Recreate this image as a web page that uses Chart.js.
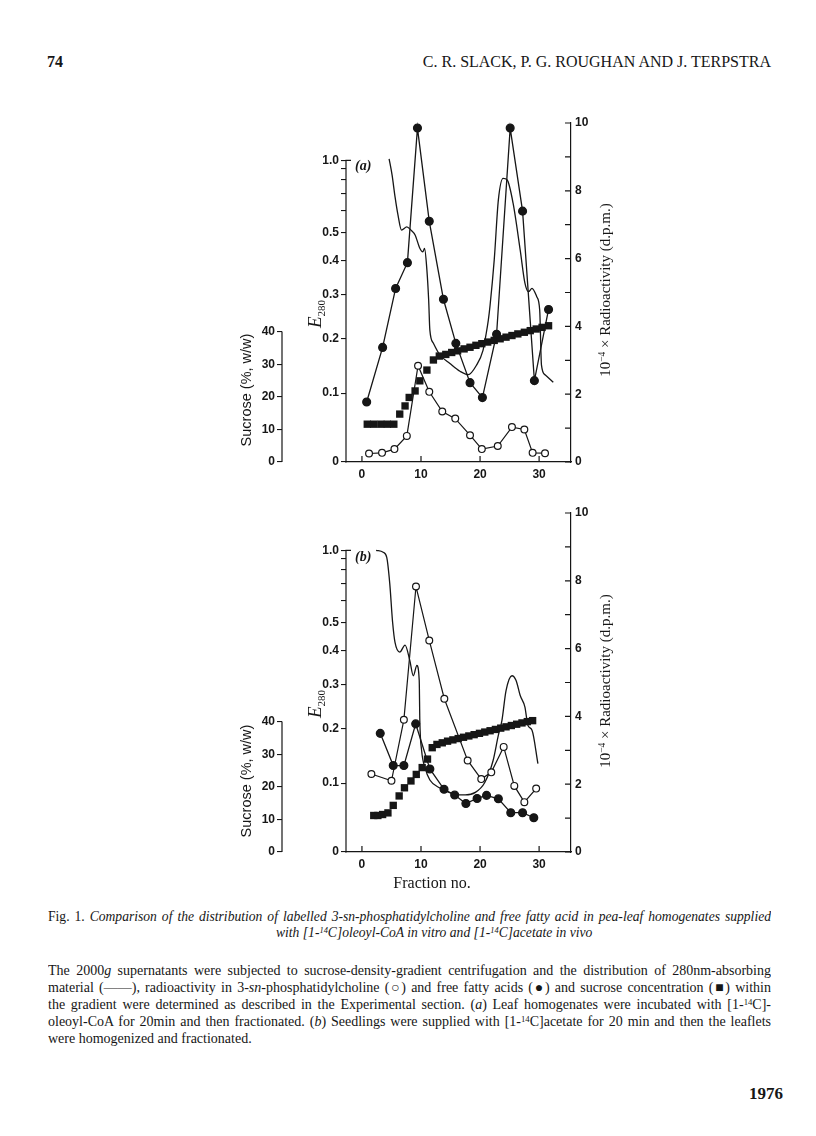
<!DOCTYPE html>
<html>
<head>
<meta charset="utf-8">
<script src="https://cdn.jsdelivr.net/npm/chart.js@4"></script>
<style>
body { margin:0; background:#fff; }
#page { position:relative; width:816px; height:1136px; background:#fff; color:#161616; font-family:"Liberation Serif", serif; overflow:hidden; }
.t { position:absolute; white-space:nowrap; line-height:1; }
.rot { transform:translate(-50%,-50%) rotate(-90deg); }
.sup { font-size:0.62em; vertical-align:0.5em; line-height:0; }
.ln { position:absolute; left:48px; width:723px; font-size:14px; line-height:17px; height:17px; overflow:hidden; text-align:justify; text-align-last:justify; }
canvas { position:absolute; }
</style>
</head>
<body>
<div id="page">
  <div class="t" style="left:47px;top:54px;font-size:16px;font-weight:bold;">74</div>
  <div class="t" style="right:45px;top:54px;font-size:16px;">C. R. SLACK, P. G. ROUGHAN AND J. TERPSTRA</div>

  <canvas id="chartA" width="390" height="390" style="left:230px;top:100px;"></canvas>
  <canvas id="chartB" width="390" height="390" style="left:230px;top:490px;"></canvas>

  <div class="t" style="left:355px;top:159px;font-size:14px;font-style:italic;font-weight:bold;">(a)</div>
  <div class="t" style="left:355px;top:550px;font-size:14px;font-style:italic;font-weight:bold;">(b)</div>

  <div class="t rot" style="left:316px;top:314px;font-size:19px;"><i>E</i><sub style="font-size:11px;">280</sub></div>
  <div class="t rot" style="left:316px;top:704px;font-size:19px;"><i>E</i><sub style="font-size:11px;">280</sub></div>
  <div class="t rot" style="left:246px;top:390px;font-size:14.5px;font-family:'Liberation Sans',sans-serif;">Sucrose (%, w/w)</div>
  <div class="t rot" style="left:246px;top:781px;font-size:14.5px;font-family:'Liberation Sans',sans-serif;">Sucrose (%, w/w)</div>
  <div class="t rot" style="left:605px;top:290px;font-size:15px;">10<span class="sup">−4</span> × Radioactivity (d.p.m.)</div>
  <div class="t rot" style="left:605px;top:681px;font-size:15px;">10<span class="sup">−4</span> × Radioactivity (d.p.m.)</div>

  <div class="t" style="left:432px;top:875px;font-size:16px;transform:translateX(-50%);">Fraction no.</div>

  <div class="ln" style="top:908px;font-size:13.6px;">Fig. 1. <i>Comparison of the distribution of labelled 3-sn-phosphatidylcholine and free fatty acid in pea-leaf homogenates supplied</i></div>
  <div class="t" style="left:276px;top:926px;font-size:13.6px;font-style:italic;">with [1-<span class="sup">14</span>C]oleoyl-CoA in vitro and [1-<span class="sup">14</span>C]acetate in vivo</div>

  <div class="ln" style="top:962px;">The 2000<i>g</i> supernatants were subjected to sucrose-density-gradient centrifugation and the distribution of 280nm-absorbing</div>
  <div class="ln" style="top:979px;">material (——), radioactivity in 3-<i>sn</i>-phosphatidylcholine (○) and free fatty acids (●) and sucrose concentration (■) within</div>
  <div class="ln" style="top:996px;">the gradient were determined as described in the Experimental section. (<i>a</i>) Leaf homogenates were incubated with [1-<span class="sup">14</span>C]-</div>
  <div class="ln" style="top:1013px;">oleoyl-CoA for 20min and then fractionated. (<i>b</i>) Seedlings were supplied with [1-<span class="sup">14</span>C]acetate for 20 min and then the leaflets</div>
  <div class="ln" style="top:1030px;text-align-last:left;">were homogenized and fractionated.</div>

  <div class="t" style="left:749px;top:1085px;font-size:17px;font-weight:bold;">1976</div>
</div>

<script>
var ink = '#161616';

// (a) homogenates incubated with [1-14C]oleoyl-CoA
var e280FracA = [4.6, 5.1, 5.6, 6.1, 6.7, 7.6, 8.3, 9.0, 9.8, 10.3, 10.6, 11.0, 11.3, 11.5, 12.1, 13.2, 14.9, 16.6, 18.0, 19.4, 20.5, 21.0, 21.4, 21.7, 22.4, 23.1, 23.9, 24.6, 25.6, 26.8, 27.6, 28.2, 28.8, 29.6, 30.1, 30.4, 31.0, 32.4];
var e280A = [1.02, 0.843, 0.681, 0.58, 0.511, 0.525, 0.511, 0.491, 0.441, 0.428, 0.44, 0.369, 0.286, 0.217, 0.19, 0.167, 0.151, 0.137, 0.131, 0.148, 0.176, 0.207, 0.239, 0.274, 0.401, 0.661, 0.813, 0.799, 0.641, 0.434, 0.331, 0.308, 0.317, 0.295, 0.262, 0.148, 0.131, 0.118];
var ffaFracA = [0.8, 3.5, 5.7, 7.7, 9.4, 11.4, 13.8, 15.9, 18.3, 20.4, 22.8, 25.1, 27.2, 29.2, 31.6];
var ffaA = [1.77, 3.38, 5.12, 5.88, 9.85, 7.1, 4.8, 3.5, 2.34, 1.9, 3.77, 9.85, 7.4, 2.4, 4.5];
var pcFracA = [1.2, 3.4, 5.5, 7.6, 9.5, 11.4, 13.6, 15.8, 18.3, 20.3, 23.0, 25.4, 27.5, 28.9, 31.0];
var pcA = [0.25, 0.27, 0.38, 0.77, 2.84, 2.07, 1.49, 1.28, 0.79, 0.38, 0.47, 1.03, 0.96, 0.27, 0.26];
var sucFracA = [0.9, 2.0, 3.2, 4.3, 5.4, 6.4, 7.3, 8.0, 9.0, 9.8, 11.0, 12.1, 13.1, 14.2, 15.2, 16.2, 17.3, 18.3, 19.3, 20.3, 21.3, 22.4, 23.4, 24.4, 25.4, 26.4, 27.5, 28.5, 29.5, 30.5, 31.6];
var sucA = [11.6, 11.6, 11.6, 11.6, 11.6, 14.7, 17.2, 19.8, 21.8, 24.9, 28.2, 31.3, 32.5, 33.0, 33.6, 34.1, 34.7, 35.2, 35.8, 36.3, 36.8, 37.3, 37.8, 38.3, 38.8, 39.3, 39.8, 40.3, 40.8, 41.3, 41.8];

// (b) seedlings supplied with [1-14C]acetate
var e280FracB = [2.4, 3.6, 4.2, 4.7, 5.2, 5.6, 6.4, 7.3, 8.1, 8.7, 9.3, 9.7, 9.8, 10.1, 10.7, 11.5, 13.2, 15.8, 17.5, 19.2, 20.8, 22.2, 23.1, 23.7, 24.4, 25.4, 26.1, 26.8, 27.6, 28.1, 28.8, 29.8];
var e280B = [1.0, 0.975, 0.916, 0.705, 0.5, 0.426, 0.394, 0.417, 0.368, 0.324, 0.353, 0.311, 0.216, 0.157, 0.125, 0.105, 0.092, 0.082, 0.081, 0.085, 0.101, 0.138, 0.186, 0.216, 0.285, 0.324, 0.311, 0.273, 0.246, 0.206, 0.196, 0.133];
var ffaFracB = [3.1, 5.3, 7.1, 9.1, 11.5, 13.9, 15.7, 17.6, 19.5, 21.1, 23.1, 25.2, 27.2, 29.1];
var ffaB = [3.5, 2.55, 2.55, 3.78, 2.45, 1.85, 1.68, 1.43, 1.58, 1.67, 1.57, 1.16, 1.16, 1.01];
var pcFracB = [1.6, 5.0, 7.1, 9.15, 11.4, 13.95, 17.9, 20.2, 21.9, 24.0, 25.8, 27.5, 29.5];
var pcB = [2.3, 2.1, 3.9, 7.83, 6.24, 4.52, 2.7, 2.15, 2.35, 3.1, 1.95, 1.47, 1.87];
var sucFracB = [2.0, 2.7, 3.5, 4.4, 5.3, 6.3, 7.2, 8.3, 9.2, 10.2, 11.1, 11.9, 12.7, 13.6, 14.5, 15.4, 16.3, 17.2, 18.1, 19.0, 19.9, 20.8, 21.7, 22.6, 23.5, 24.4, 25.3, 26.2, 27.1, 28.0, 28.9];
var sucB = [11.2, 11.2, 11.5, 12.0, 14.3, 17.2, 19.7, 21.8, 23.8, 25.9, 28.5, 32.0, 33.0, 33.5, 34.0, 34.4, 34.8, 35.2, 35.6, 36.0, 36.4, 36.8, 37.2, 37.6, 38.0, 38.4, 38.8, 39.2, 39.6, 40.0, 40.3];

// axes
var fracTicks = [0, 10, 20, 30];
var radTicks = [0, 1, 2, 3, 4, 5, 6, 7, 8, 9, 10];
var e280Ticks = [0, 0.1, 0.2, 0.3, 0.4, 0.5, 0.6, 0.7, 0.8, 0.9, 1.0];
var e280Labels = ['0', '0.1', '0.2', '0.3', '0.4', '0.5', '', '', '', '', '1.0'];
var sucTicks = [0, 10, 20, 30, 40];

// E280 axis is linear in absorbed fraction (1 - 10^-E); 1.0 sits at 8.9 on the radioactivity scale
function eToPos(e) {
    return 8.9 / 0.9 * (1 - Math.pow(10, -e));
}

function zip(xs, ys, f) {
    return xs.map(function(x, i) { return { x: x, y: f ? f(ys[i]) : ys[i] }; });
}

var tickFont = { family: 'Liberation Sans', size: 12, weight: 'bold' };

// short axis lines and inward tick marks
var axisMarks = {
    id: 'axisMarks',
    afterDraw: function(chart) {
        var ctx = chart.ctx, a = chart.chartArea;
        var sx = chart.scales.x, sr = chart.scales.yR, se = chart.scales.yE, ss = chart.scales.ySuc;
        ctx.save();
        ctx.strokeStyle = ink;
        ctx.lineWidth = 1.2;
        ctx.beginPath();
        ctx.moveTo(a.left, se.getPixelForValue(eToPos(0)) + 0.5);
        ctx.lineTo(a.left, se.getPixelForValue(eToPos(1)));
        ctx.lineTo(a.left + 5, se.getPixelForValue(eToPos(1)));
        ctx.moveTo(ss.right, ss.getPixelForValue(0));
        ctx.lineTo(ss.right, ss.getPixelForValue(40));
        sx.ticks.forEach(function(t) {
            var px = sx.getPixelForValue(t.value);
            ctx.moveTo(px, a.bottom);
            ctx.lineTo(px, a.bottom - 6);
        });
        sr.ticks.forEach(function(t) {
            var py = sr.getPixelForValue(t.value);
            ctx.moveTo(a.right, py);
            ctx.lineTo(a.right - 6, py);
        });
        ctx.stroke();
        ctx.restore();
    }
};

function makePanel(id, eF, eV, fF, fV, pF, pV, sF, sV) {
    new Chart(document.getElementById(id), {
        type: 'scatter',
        data: {
            datasets: [
                { label: 'Phosphatidylcholine', data: zip(pF, pV), yAxisID: 'yR', showLine: true, borderColor: ink, borderWidth: 1.2,
                  pointRadius: 3.4, pointBackgroundColor: '#fff', pointBorderColor: ink, pointBorderWidth: 1.2, clip: false },
                { label: 'Free fatty acids', data: zip(fF, fV), yAxisID: 'yR', showLine: true, borderColor: ink, borderWidth: 1.3,
                  pointRadius: 3.9, pointBackgroundColor: ink, pointBorderColor: ink, clip: false },
                { label: 'Sucrose', data: zip(sF, sV), yAxisID: 'ySuc', showLine: false, pointStyle: 'rect', pointRadius: 5.2,
                  pointBackgroundColor: ink, pointBorderColor: ink, pointBorderWidth: 0, clip: false },
                { label: 'E280', data: zip(eF, eV, eToPos), yAxisID: 'yE', showLine: true, borderColor: ink, borderWidth: 1.3,
                  pointRadius: 0, cubicInterpolationMode: 'monotone', clip: false }
            ]
        },
        options: {
            animation: false,
            responsive: false,
            devicePixelRatio: 1,
            layout: { padding: { top: 23, left: 0, right: 0, bottom: 0 } },
            plugins: { legend: { display: false }, tooltip: { enabled: false } },
            scales: {
                x: {
                    type: 'linear', position: 'bottom', min: -2.7, max: 35.4,
                    afterBuildTicks: function(s) { s.ticks = fracTicks.map(function(v) { return { value: v }; }); },
                    afterFit: function(s) { s.height = 28; },
                    grid: { display: false, drawTicks: false },
                    border: { color: ink, width: 1.2 },
                    ticks: { color: ink, font: tickFont, padding: 5, autoSkip: false, maxRotation: 0 }
                },
                yR: {
                    type: 'linear', position: 'right', min: 0, max: 10,
                    afterBuildTicks: function(s) { s.ticks = radTicks.map(function(v) { return { value: v }; }); },
                    afterFit: function(s) { s.width = 49; },
                    grid: { display: false, drawTicks: false },
                    border: { color: ink, width: 1.2 },
                    ticks: { color: ink, font: tickFont, padding: 4, autoSkip: false,
                             callback: function(v) { return v % 2 === 0 ? String(v) : ''; } }
                },
                yE: {
                    type: 'linear', position: 'left', weight: 0, min: 0, max: 10,
                    afterBuildTicks: function(s) { s.ticks = e280Ticks.map(function(v) { return { value: eToPos(v) }; }); },
                    afterFit: function(s) { s.width = 64; },
                    grid: { display: true, drawOnChartArea: false, drawTicks: true, tickLength: 5, color: ink, lineWidth: 1.1 },
                    border: { display: false },
                    ticks: { color: ink, font: tickFont, padding: 2, autoSkip: false,
                             callback: function(v, i) { return e280Labels[i]; } }
                },
                ySuc: {
                    type: 'linear', position: 'left', weight: 1, min: 0, max: 104,
                    afterBuildTicks: function(s) { s.ticks = sucTicks.map(function(v) { return { value: v }; }); },
                    afterFit: function(s) { s.width = 52; },
                    grid: { display: true, drawOnChartArea: false, drawTicks: true, tickLength: 5, color: ink, lineWidth: 1.1 },
                    border: { display: false },
                    ticks: { color: ink, font: tickFont, padding: 2, autoSkip: false }
                }
            }
        },
        plugins: [axisMarks]
    });
}

makePanel('chartA', e280FracA, e280A, ffaFracA, ffaA, pcFracA, pcA, sucFracA, sucA);
makePanel('chartB', e280FracB, e280B, ffaFracB, ffaB, pcFracB, pcB, sucFracB, sucB);
</script>
</body>
</html>
